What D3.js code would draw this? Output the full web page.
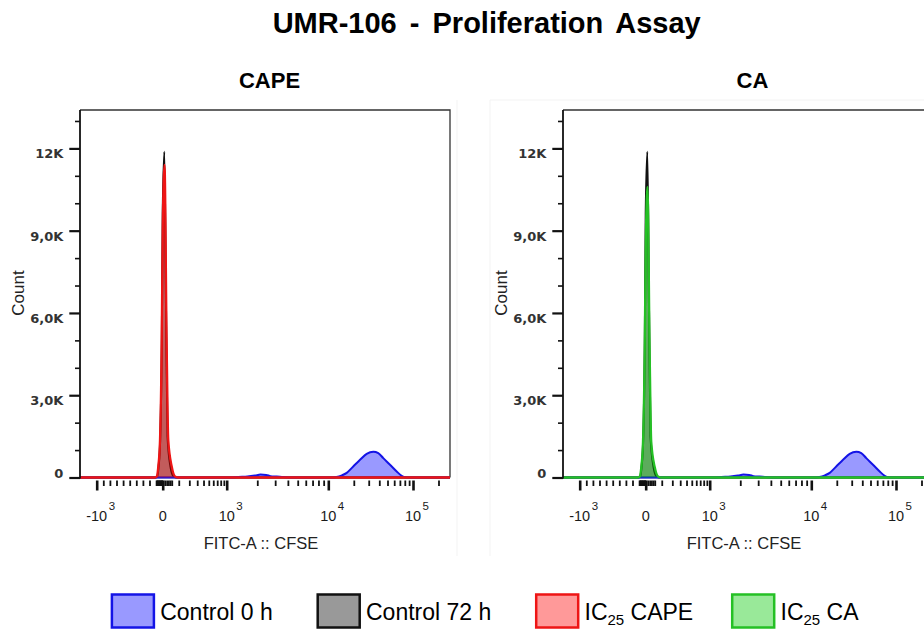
<!DOCTYPE html>
<html>
<head>
<meta charset="utf-8">
<style>
  body { margin: 0; background: #fff; }
  svg { display: block; font-family: "Liberation Sans", Arial, sans-serif; }
</style>
<script src="https://cdn.jsdelivr.net/npm/d3@7"></script>
</head>
<body>
<svg id="chart" width="924" height="630"></svg>
<script>
// histogram overlays: [CFSE intensity, count]
var control0h = [[-1800, 0], [1100, 0], [1300, 20], [1600, 35], [1900, 70], [2150, 105],
  [2450, 95], [2700, 50], [3100, 35], [3600, 15], [4200, 0], [11500, 0], [12500, 15],
  [14500, 80], [16500, 170], [19700, 400], [23700, 645], [28400, 865], [34000, 940],
  [38900, 890], [44600, 705], [53500, 465], [64200, 220], [73600, 60], [80400, 5],
  [90000, 0], [300000, 0]];
var control72h = [[-1800, 0], [-110, 0], [-85, 30], [-62, 400], [-38, 1400], [-13, 5200],
  [0, 9600], [8, 11880], [17, 6000], [25, 1500], [42, 400], [62, 40], [85, 0], [300000, 0]];
var ic25Cape = [[-1800, 0], [-120, 0], [-92, 30], [-67, 400], [-41, 1370], [-15, 5000],
  [0, 9000], [9, 11400], [20, 5000], [29, 1370], [50, 400], [72, 40], [100, 0], [300000, 0]];
var ic25Ca = [[-1800, 0], [-120, 0], [-92, 30], [-67, 380], [-41, 1300], [-15, 4700],
  [0, 8400], [9, 10600], [20, 4700], [29, 1300], [50, 380], [72, 40], [100, 0], [300000, 0]];

var panelTitles = ["CAPE", "CA"];
var panelTreated = [ic25Cape, ic25Ca];
var panelKeys = ["cape", "ca"];

var yMajorTicks = [0, 3000, 6000, 9000, 12000];
var yTickLabels = ["0", "3,0K", "6,0K", "9,0K", "12K"];
var yMinorTicks = [1000, 2000, 4000, 5000, 7000, 8000, 10000, 11000, 13000];
var xMajorTicks = [-1000, 0, 1000, 10000, 100000];
var xTickBase = ["-10", "0", "10", "10", "10"];
var xTickExp = ["3", "", "3", "4", "5"];
var xMinorTicks = d3.range(-900, 0, 100).concat(d3.range(-90, 0, 10), d3.range(10, 60, 10),
  d3.range(100, 1000, 100), d3.range(2000, 10000, 1000), d3.range(20000, 100000, 10000), [200000]);

var legendKeys = ["c0", "c72", "cape", "ca"];
var legendMain = ["Control 0 h", "Control 72 h", "IC", "IC"];
var legendSub = ["", "", "25", "25"];
var legendTail = ["", "", " CAPE", " CA"];

var styles = {
  c0: { fill: "rgba(0,0,255,0.4)", stroke: "#1414e6" },
  c72: { fill: "rgba(0,0,0,0.4)", stroke: "#111" },
  cape: { fill: "rgba(255,0,0,0.4)", stroke: "#ee1515" },
  ca: { fill: "rgba(0,200,0,0.4)", stroke: "#25c025" }
};

// biexponential-like display: linear below zero, compressed log up to 10^3, log above
function tf(v) {
  if (v < 0) return v / 1000;
  if (v < 1000) return Math.log10(1 + v / 150) / Math.log10(1 + 1000 / 150);
  return 1 + Math.log10(v / 1000);
}

var svg = d3.select("#chart");
var L = 80, R = 450, T = 110, B = 477.5;

var x = d3.scaleLinear().domain([-1, 0, 1, 2, 3]).range([96.7, 162.7, 226.7, 328.3, 413]);
var y = d3.scaleLinear().domain([0, 13400]).range([B, T]);

var area = d3.area().x(function (d) { return x(tf(d[0])); })
  .y0(y(0)).y1(function (d) { return y(d[1]); }).curve(d3.curveMonotoneX);
var line = d3.line().x(function (d) { return x(tf(d[0])); })
  .y(function (d) { return y(d[1]); }).curve(d3.curveMonotoneX);

svg.append("text")
  .attr("x", 486.7).attr("y", 33.3)
  .attr("text-anchor", "middle")
  .style("font-size", "29px").style("font-weight", "bold").style("word-spacing", "5px")
  .text("UMR-106 - Proliferation Assay");

// faint edges of the pasted screenshots
svg.append("path").attr("d", "M457,100V556").attr("stroke", "#f3f3f3").attr("fill", "none");
svg.append("path").attr("d", "M924,100H490V556").attr("stroke", "#f3f3f3").attr("fill", "none");

panelTitles.forEach(function (title, p) {
  var g = svg.append("g").attr("transform", "translate(" + (p * 483) + ",0)");

  g.append("text").attr("x", 269.5).attr("y", 88)
    .attr("text-anchor", "middle")
    .style("font-size", "22px").style("font-weight", "bold")
    .text(title);

  g.append("clipPath").attr("id", "clip" + p)
    .append("rect").attr("x", L).attr("y", T - 5).attr("width", R - L).attr("height", B - T + 8);

  // frame
  g.append("path").attr("d", "M" + L + "," + T + "H" + R + "V" + B)
    .attr("fill", "none").attr("stroke", "#333").attr("stroke-width", 1.3);
  g.append("path").attr("d", "M" + L + "," + B + "H" + R)
    .attr("fill", "none").attr("stroke", "#111").attr("stroke-width", 1.5);

  var plot = g.append("g").attr("clip-path", "url(#clip" + p + ")");
  var series = [[control72h, "c72"], [control0h, "c0"], [panelTreated[p], panelKeys[p]]];
  series.forEach(function (s, j) {
    plot.append("path").datum(s[0]).attr("d", area)
      .attr("fill", styles[s[1]].fill);
    plot.append("path").datum(s[0]).attr("d", line)
      .attr("fill", "none").attr("stroke", styles[s[1]].stroke)
      .attr("stroke-width", j === 2 ? 2.3 : 2).attr("stroke-linejoin", "round");
  });

  g.append("path").attr("d", "M" + L + "," + T + "V" + (B + 1))
    .attr("stroke", "#111").attr("stroke-width", 1.8);

  // y axis
  g.append("g").attr("transform", "translate(" + L + ",0)")
    .call(d3.axisLeft(y).tickValues(yMajorTicks).tickSize(10.7).tickFormat(""))
    .call(function (a) { a.select(".domain").remove(); })
    .selectAll("line").attr("stroke", "#111").attr("stroke-width", 2.2);
  g.append("g").attr("transform", "translate(" + L + ",0)")
    .call(d3.axisLeft(y).tickValues(yMinorTicks).tickSize(5).tickFormat(""))
    .call(function (a) { a.select(".domain").remove(); })
    .selectAll("line").attr("stroke", "#111").attr("stroke-width", 1.6);
  yMajorTicks.forEach(function (v, i) {
    g.append("text").attr("x", 63.3).attr("y", y(v) + (v === 0 ? 0.5 : 10))
      .attr("text-anchor", "end")
      .style("font-family", "'DejaVu Sans', sans-serif").style("font-weight", "bold")
      .style("font-size", "13px").attr("fill", "#333")
      .text(yTickLabels[i]);
  });

  // x axis
  g.append("g").attr("transform", "translate(0," + (B + 3) + ")")
    .call(d3.axisBottom(x).tickValues(xMajorTicks.map(tf)).tickSize(10).tickFormat(""))
    .call(function (a) { a.select(".domain").remove(); })
    .selectAll("line").attr("stroke", "#111").attr("stroke-width", 2.6);
  g.append("g").attr("transform", "translate(0," + (B + 3) + ")")
    .call(d3.axisBottom(x).tickValues(xMinorTicks.map(tf)).tickSize(5.5).tickFormat(""))
    .call(function (a) { a.select(".domain").remove(); })
    .selectAll("line").attr("stroke", "#111").attr("stroke-width", 1.8);
  xMajorTicks.forEach(function (v, i) {
    var cx = x(tf(v));
    var base = g.append("text").attr("x", cx).attr("y", 520.5)
      .attr("text-anchor", "middle").style("font-size", "14.5px").attr("fill", "#1a1a1a")
      .text(xTickBase[i]);
    if (xTickExp[i]) {
      var w = base.node().getComputedTextLength();
      g.append("text").attr("x", cx + w / 2 + 1.5).attr("y", 510)
        .style("font-size", "11.5px").attr("fill", "#1a1a1a")
        .text(xTickExp[i]);
    }
  });

  g.append("text").attr("x", 261).attr("y", 549)
    .attr("text-anchor", "middle").style("font-size", "16.5px").attr("fill", "#222")
    .text("FITC-A :: CFSE");
  g.append("text").attr("transform", "translate(24,293) rotate(-90)")
    .attr("text-anchor", "middle").style("font-size", "17px").attr("fill", "#222")
    .text("Count");
});

// legend
var legendX = [110.7, 316.5, 535, 731];
legendKeys.forEach(function (k, i) {
  var lg = svg.append("g").attr("transform", "translate(" + legendX[i] + ",593.3)");
  lg.append("rect").attr("x", 1.2).attr("y", 1.2).attr("width", 42).attr("height", 33)
    .attr("fill", styles[k].fill).attr("stroke", styles[k].stroke).attr("stroke-width", 2.5);
  var t = lg.append("text").attr("x", 49.5).attr("y", 26.7).style("font-size", "23px")
    .text(legendMain[i]);
  if (legendSub[i]) {
    t.append("tspan").attr("dy", 5).style("font-size", "15px").text(legendSub[i]);
    t.append("tspan").attr("dy", -5).text(legendTail[i]);
  }
});
</script>
</body>
</html>
